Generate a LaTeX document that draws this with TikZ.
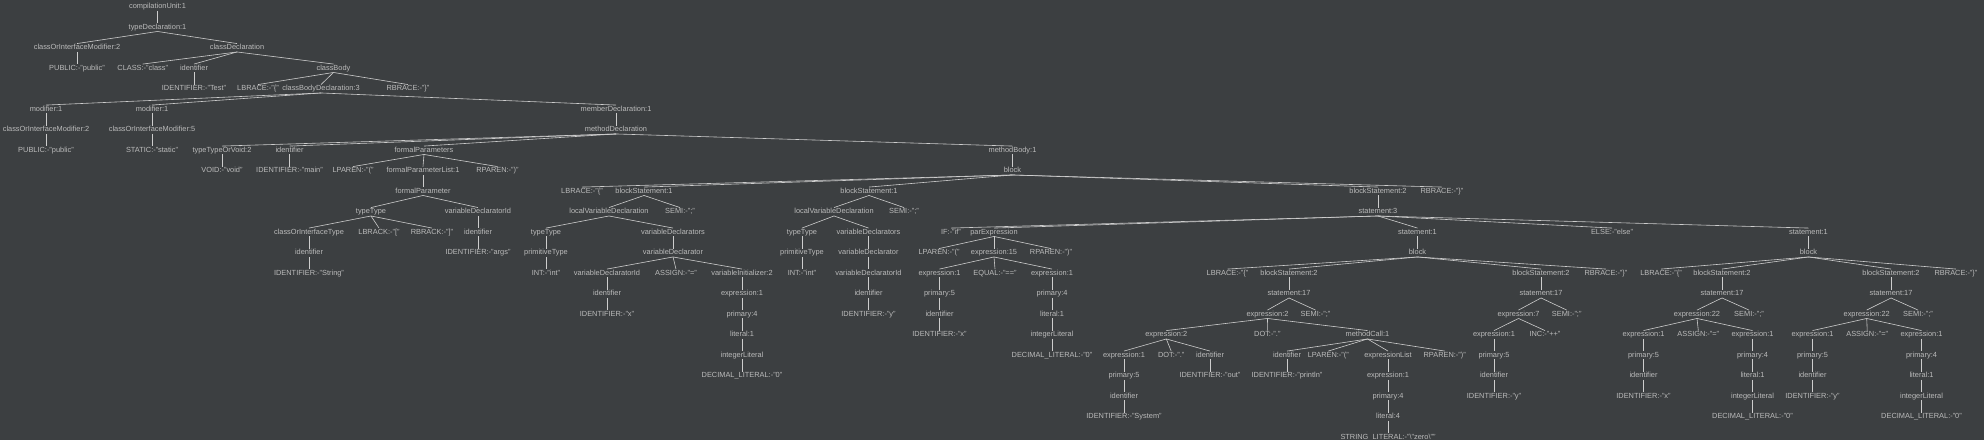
\documentclass[tikz,border=0pt]{standalone}
\usepackage{fontspec}
\setmainfont{Liberation Sans}
\usepackage{xcolor}
\definecolor{bg}{HTML}{3C3F41}
\definecolor{ink}{HTML}{BBBBBB}
\definecolor{wire}{HTML}{CDCDCD}
\tikzset{
  tn/.style={text=ink,font=\fontsize{7.4}{8}\selectfont,inner xsep=1pt,inner ysep=0.5pt,text height=5.5pt,text depth=1.5pt},
  link/.style={draw=wire,line width=0.6pt},
}
\begin{document}
\begin{tikzpicture}[x=1pt,y=-20.5pt]
\fill[bg] (0,-0.33) rectangle (1984,21.133);
\useasboundingbox (0,-0.33) rectangle (1984,21.133);
\node[tn] (cu) at (157.5,0) {compilationUnit:1};
\node[tn] (td) at (157.5,1) {typeDeclaration:1};
\node[tn] (coim) at (77,2) {classOrInterfaceModifier:2};
\node[tn] (cdecl) at (237,2) {classDeclaration};
\node[tn] (pub) at (77,3) {PUBLIC:-"public"};
\node[tn] (cls) at (142.7,3) {CLASS:-"class"};
\node[tn] (cid) at (194,3) {identifier};
\node[tn] (cbody) at (333.5,3) {classBody};
\node[tn] (idtest) at (194,4) {IDENTIFIER:-"Test"};
\node[tn] (lbrace) at (258,4) {LBRACE:-"\{"};
\node[tn] (cbd) at (321,4) {classBodyDeclaration:3};
\node[tn] (rbrace) at (408,4) {RBRACE:-"\}"};
\node[tn] (moda) at (46,5) {modifier:1};
\node[tn] (modb) at (152,5) {modifier:1};
\node[tn] (memb) at (616,5) {memberDeclaration:1};
\node[tn] (coima) at (46,6) {classOrInterfaceModifier:2};
\node[tn] (coimb) at (152,6) {classOrInterfaceModifier:5};
\node[tn] (mdecl) at (616,6) {methodDeclaration};
\node[tn] (puba) at (46,7) {PUBLIC:-"public"};
\node[tn] (statb) at (152,7) {STATIC:-"static"};
\node[tn] (ttov) at (222,7) {typeTypeOrVoid:2};
\node[tn] (mid) at (289.5,7) {identifier};
\node[tn] (fps) at (424,7) {formalParameters};
\node[tn] (mbody) at (1012.5,7) {methodBody:1};
\node[tn] (void) at (222,8) {VOID:-"void"};
\node[tn] (idmain) at (289.5,8) {IDENTIFIER:-"main"};
\node[tn] (lparen) at (353,8) {LPAREN:-"("};
\node[tn] (fpl) at (423,8) {formalParameterList:1};
\node[tn] (rparen) at (497.5,8) {RPAREN:-")"};
\node[tn] (blk) at (1012.5,8) {block};
\node[tn] (fp) at (423,9) {formalParameter};
\node[tn] (blbrace) at (582,9) {LBRACE:-"\{"};
\node[tn] (bsa) at (644,9) {blockStatement:1};
\node[tn] (bsb) at (869,9) {blockStatement:1};
\node[tn] (bsc) at (1378,9) {blockStatement:2};
\node[tn] (brbrace) at (1442,9) {RBRACE:-"\}"};
\node[tn] (fptt) at (371,10) {typeType};
\node[tn] (fpvdi) at (478,10) {variableDeclaratorId};
\node[tn] (lvda) at (609,10) {localVariableDeclaration};
\node[tn] (semia) at (680,10) {SEMI:-";"};
\node[tn] (lvdb) at (834,10) {localVariableDeclaration};
\node[tn] (semib) at (904,10) {SEMI:-";"};
\node[tn] (st3) at (1378,10) {statement:3};
\node[tn] (coit) at (309,11) {classOrInterfaceType};
\node[tn] (lbrack) at (379,11) {LBRACK:-"["};
\node[tn] (rbrack) at (432,11) {RBRACK:-"]"};
\node[tn] (argsid) at (478,11) {identifier};
\node[tn] (tta) at (546,11) {typeType};
\node[tn] (vdsa) at (673,11) {variableDeclarators};
\node[tn] (ttb) at (802,11) {typeType};
\node[tn] (vdsb) at (868.5,11) {variableDeclarators};
\node[tn] (iftok) at (951,11) {IF:-"if"};
\node[tn] (parx) at (994,11) {parExpression};
\node[tn] (st1a) at (1417.5,11) {statement:1};
\node[tn] (elsetok) at (1612,11) {ELSE:-"else"};
\node[tn] (st1b) at (1808.5,11) {statement:1};
\node[tn] (strid) at (309,12) {identifier};
\node[tn] (idargs) at (478,12) {IDENTIFIER:-"args"};
\node[tn] (pta) at (546,12) {primitiveType};
\node[tn] (vda) at (673,12) {variableDeclarator};
\node[tn] (ptb) at (802,12) {primitiveType};
\node[tn] (vdb) at (868.5,12) {variableDeclarator};
\node[tn] (plparen) at (939,12) {LPAREN:-"("};
\node[tn] (ex15) at (994,12) {expression:15};
\node[tn] (prparen) at (1051,12) {RPAREN:-")"};
\node[tn] (blka) at (1417.5,12) {block};
\node[tn] (blkb) at (1808.5,12) {block};
\node[tn] (idstring) at (309,13) {IDENTIFIER:-"String"};
\node[tn] (inta) at (546,13) {INT:-"int"};
\node[tn] (vdida) at (607,13) {variableDeclaratorId};
\node[tn] (assigna) at (676,13) {ASSIGN:-"="};
\node[tn] (vinit) at (742,13) {variableInitializer:2};
\node[tn] (intb) at (802,13) {INT:-"int"};
\node[tn] (vdidb) at (868.5,13) {variableDeclaratorId};
\node[tn] (exl) at (939.5,13) {expression:1};
\node[tn] (equal) at (995,13) {EQUAL:-"=="};
\node[tn] (exr) at (1052,13) {expression:1};
\node[tn] (albrace) at (1227.5,13) {LBRACE:-"\{"};
\node[tn] (absa) at (1289,13) {blockStatement:2};
\node[tn] (absb) at (1541,13) {blockStatement:2};
\node[tn] (arbrace) at (1606,13) {RBRACE:-"\}"};
\node[tn] (bblbrace) at (1661,13) {LBRACE:-"\{"};
\node[tn] (bbsa) at (1722,13) {blockStatement:2};
\node[tn] (bbsb) at (1891,13) {blockStatement:2};
\node[tn] (bbrbrace) at (1956,13) {RBRACE:-"\}"};
\node[tn] (xid) at (607,14) {identifier};
\node[tn] (vinitex) at (742,14) {expression:1};
\node[tn] (yid) at (868.5,14) {identifier};
\node[tn] (exlp) at (939.5,14) {primary:5};
\node[tn] (exrp) at (1052,14) {primary:4};
\node[tn] (ast17a) at (1289,14) {statement:17};
\node[tn] (ast17b) at (1541,14) {statement:17};
\node[tn] (bst17a) at (1722,14) {statement:17};
\node[tn] (bst17b) at (1891,14) {statement:17};
\node[tn] (idx) at (607,15) {IDENTIFIER:-"x"};
\node[tn] (vinitp) at (742,15) {primary:4};
\node[tn] (idy) at (868.5,15) {IDENTIFIER:-"y"};
\node[tn] (exlid) at (939.5,15) {identifier};
\node[tn] (exrlit) at (1052,15) {literal:1};
\node[tn] (ex2) at (1267.5,15) {expression:2};
\node[tn] (asemia) at (1315.5,15) {SEMI:-";"};
\node[tn] (ex7) at (1518.5,15) {expression:7};
\node[tn] (asemib) at (1566.7,15) {SEMI:-";"};
\node[tn] (ex22a) at (1697,15) {expression:22};
\node[tn] (bsemia) at (1749,15) {SEMI:-";"};
\node[tn] (ex22b) at (1866.7,15) {expression:22};
\node[tn] (bsemib) at (1918,15) {SEMI:-";"};
\node[tn] (vinitlit) at (742,16) {literal:1};
\node[tn] (exlidx) at (939.5,16) {IDENTIFIER:-"x"};
\node[tn] (exrint) at (1052,16) {integerLiteral};
\node[tn] (ex2in) at (1166.3,16) {expression:2};
\node[tn] (dota) at (1267.3,16) {DOT:-"."};
\node[tn] (mcall) at (1367.5,16) {methodCall:1};
\node[tn] (ex7e) at (1494,16) {expression:1};
\node[tn] (inc) at (1545,16) {INC:-"++"};
\node[tn] (ax) at (1643.5,16) {expression:1};
\node[tn] (aassign) at (1698.3,16) {ASSIGN:-"="};
\node[tn] (av) at (1752.5,16) {expression:1};
\node[tn] (bx) at (1812.5,16) {expression:1};
\node[tn] (bassign) at (1867.2,16) {ASSIGN:-"="};
\node[tn] (bv) at (1921.5,16) {expression:1};
\node[tn] (vinitint) at (742,17) {integerLiteral};
\node[tn] (exrdec) at (1052,17) {DECIMAL\_LITERAL:-"0"};
\node[tn] (sysex) at (1124,17) {expression:1};
\node[tn] (dotb) at (1171.2,17) {DOT:-"."};
\node[tn] (outid) at (1210,17) {identifier};
\node[tn] (printid) at (1287,17) {identifier};
\node[tn] (mlparen) at (1328.3,17) {LPAREN:-"("};
\node[tn] (exlist) at (1388,17) {expressionList};
\node[tn] (mrparen) at (1444.7,17) {RPAREN:-")"};
\node[tn] (ex7p) at (1494,17) {primary:5};
\node[tn] (axp) at (1643.5,17) {primary:5};
\node[tn] (avp) at (1752.5,17) {primary:4};
\node[tn] (bxp) at (1812.5,17) {primary:5};
\node[tn] (bvp) at (1921.5,17) {primary:4};
\node[tn] (vinitdec) at (742,18) {DECIMAL\_LITERAL:-"0"};
\node[tn] (sysp) at (1124,18) {primary:5};
\node[tn] (idout) at (1210,18) {IDENTIFIER:-"out"};
\node[tn] (idprint) at (1287,18) {IDENTIFIER:-"println"};
\node[tn] (listex) at (1388,18) {expression:1};
\node[tn] (ex7id) at (1494,18) {identifier};
\node[tn] (axid) at (1643.5,18) {identifier};
\node[tn] (avlit) at (1752.5,18) {literal:1};
\node[tn] (bxid) at (1812.5,18) {identifier};
\node[tn] (bvlit) at (1921.5,18) {literal:1};
\node[tn] (sysid) at (1124,19) {identifier};
\node[tn] (listp) at (1388,19) {primary:4};
\node[tn] (idy2) at (1494,19) {IDENTIFIER:-"y"};
\node[tn] (idx2) at (1643.5,19) {IDENTIFIER:-"x"};
\node[tn] (avint) at (1752.5,19) {integerLiteral};
\node[tn] (idy3) at (1812.5,19) {IDENTIFIER:-"y"};
\node[tn] (bvint) at (1921.5,19) {integerLiteral};
\node[tn] (idsys) at (1124,20) {IDENTIFIER:-"System"};
\node[tn] (listlit) at (1388,20) {literal:4};
\node[tn] (avdec) at (1752.5,20) {DECIMAL\_LITERAL:-"0"};
\node[tn] (bvdec) at (1921.5,20) {DECIMAL\_LITERAL:-"0"};
\node[tn] (strlit) at (1388,21) {STRING\_LITERAL:-"\textbackslash"zero\textbackslash""};
\foreach \p/\c in {cu/td,td/coim,td/cdecl,coim/pub,cdecl/cls,cdecl/cid,cdecl/cbody,cid/idtest,
  cbody/lbrace,cbody/cbd,cbody/rbrace,cbd/moda,cbd/modb,cbd/memb,moda/coima,coima/puba,
  modb/coimb,coimb/statb,memb/mdecl,mdecl/ttov,mdecl/mid,mdecl/fps,mdecl/mbody,ttov/void,
  mid/idmain,fps/lparen,fps/fpl,fps/rparen,fpl/fp,fp/fptt,fp/fpvdi,fptt/coit,fptt/lbrack,
  fptt/rbrack,coit/strid,strid/idstring,fpvdi/argsid,argsid/idargs,mbody/blk,
  blk/blbrace,blk/bsa,blk/bsb,blk/bsc,blk/brbrace,bsa/lvda,bsa/semia,lvda/tta,lvda/vdsa,
  tta/pta,pta/inta,vdsa/vda,vda/vdida,vda/assigna,vda/vinit,vdida/xid,xid/idx,
  vinit/vinitex,vinitex/vinitp,vinitp/vinitlit,vinitlit/vinitint,vinitint/vinitdec,
  bsb/lvdb,bsb/semib,lvdb/ttb,lvdb/vdsb,ttb/ptb,ptb/intb,vdsb/vdb,vdb/vdidb,vdidb/yid,yid/idy,
  bsc/st3,st3/iftok,st3/parx,st3/st1a,st3/elsetok,st3/st1b,parx/plparen,parx/ex15,parx/prparen,
  ex15/exl,ex15/equal,ex15/exr,exl/exlp,exlp/exlid,exlid/exlidx,exr/exrp,exrp/exrlit,
  exrlit/exrint,exrint/exrdec,st1a/blka,blka/albrace,blka/absa,blka/absb,blka/arbrace,
  absa/ast17a,ast17a/ex2,ast17a/asemia,ex2/ex2in,ex2/dota,ex2/mcall,ex2in/sysex,ex2in/dotb,
  ex2in/outid,sysex/sysp,sysp/sysid,sysid/idsys,outid/idout,mcall/printid,mcall/mlparen,
  mcall/exlist,mcall/mrparen,printid/idprint,exlist/listex,listex/listp,listp/listlit,
  listlit/strlit,absb/ast17b,ast17b/ex7,ast17b/asemib,ex7/ex7e,ex7/inc,ex7e/ex7p,ex7p/ex7id,
  ex7id/idy2,st1b/blkb,blkb/bblbrace,blkb/bbsa,blkb/bbsb,blkb/bbrbrace,bbsa/bst17a,
  bst17a/ex22a,bst17a/bsemia,ex22a/ax,ex22a/aassign,ex22a/av,ax/axp,axp/axid,axid/idx2,
  av/avp,avp/avlit,avlit/avint,avint/avdec,bbsb/bst17b,bst17b/ex22b,bst17b/bsemib,
  ex22b/bx,ex22b/bassign,ex22b/bv,bx/bxp,bxp/bxid,bxid/idy3,bv/bvp,bvp/bvlit,bvlit/bvint,
  bvint/bvdec}
  \draw[link] (\p.south) -- (\c.north);
\end{tikzpicture}
\end{document}
